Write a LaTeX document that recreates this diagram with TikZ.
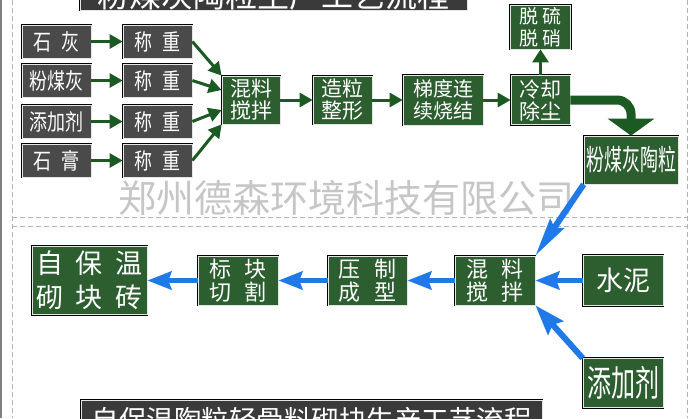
\documentclass[tikz,border=0pt]{standalone}
\usepackage{fontspec}
\newfontfamily\cjk{Noto Sans CJK SC}
\usetikzlibrary{arrows.meta}
\definecolor{boxgreen}{HTML}{2D5E30}
\definecolor{boxgray}{HTML}{4A4A4A}
\definecolor{titlegray}{HTML}{3A3A3A}
\definecolor{arrgreen}{HTML}{1C5A24}
\definecolor{arrblue}{HTML}{1F7AE8}
\newcommand{\fsz}[2]{\fontsize{#1}{#2}\selectfont}
\newcommand{\cgap}[1][0.6em]{\hspace{#1}}
\newcommand{\tallt}[2][1.25]{\scalebox{1}[#1]{#2}}
\begin{document}
\begin{tikzpicture}[x=1pt, y=-1pt, node distance=39pt,
  cbox/.style={rectangle, draw=white!80!gray, line width=0.7pt, preaction={draw=black, line width=2.6pt}, text=white, inner sep=0pt, align=center},
  gbox/.style={cbox, fill=boxgreen, minimum width=80pt, minimum height=49pt},
  hbox/.style={cbox, fill=boxgray, minimum width=69pt, minimum height=33pt, font=\cjk\fsz{18}{22}},
  garrow/.style={draw=arrgreen, line width=3pt, -{Triangle[length=13pt,width=14pt]}},
  barrow/.style={draw=arrblue, line width=5pt, -{Stealth[length=24pt,width=18pt,inset=3pt]}}]
\useasboundingbox (0,0) rectangle (700,418);
\clip (0,0) rectangle (700,418);
\fill[white] (0,0) rectangle (700,418);
\draw[gray, line width=1.5pt] (1,0) -- (1,418);
\draw[gray!60, line width=0.8pt, dash pattern=on 5pt off 3pt] (12,0) -- (12,418) (687,0) -- (687,418) (12,217) -- (687,217) (12,226) -- (687,226);
\node (W) [text=gray!45, font=\cjk\fsz{38}{40}] at (346,198) {郑州德森环境科技有限公司};

\node (U) [cbox, fill=titlegray, minimum width=387pt, minimum height=30pt, font=\cjk\fsz{32}{34}] at (273.5,-5) {粉煤灰陶粒生产工艺流程};
\node (V) [cbox, fill=titlegray, minimum width=461pt, minimum height=40pt, font=\cjk\fsz{27.5}{30}] at (311.5,420) {自保温陶粒轻骨料砌块生产工艺流程};

\node (A) [hbox] at (56.5,41.5) {\tallt{石\cgap 灰}};
\node (B) [hbox, below of=A] {\tallt{粉煤灰}};
\node (C) [hbox, below of=B, yshift=-2pt] {\tallt{添加剂}};
\node (D) [hbox, below of=C] {\tallt{石\cgap 膏}};
\node (E) [hbox, right of=A, xshift=62pt] {\tallt{称\cgap 重}};
\node (F) [hbox, right of=B, xshift=62pt] {\tallt{称\cgap 重}};
\node (G) [hbox, right of=C, xshift=62pt] {\tallt{称\cgap 重}};
\node (H) [hbox, right of=D, xshift=62pt] {\tallt{称\cgap 重}};
\node (I) [gbox, minimum width=58pt, minimum height=48pt, font=\cjk\fsz{21}{22}] at (251,100) {混料\\搅拌};
\node (J) [gbox, right of=I, xshift=52.5pt, minimum width=59pt, minimum height=48pt, font=\cjk\fsz{21}{22}] {造粒\\整形};
\node (K) [gbox, right of=J, xshift=61.5pt, minimum height=50pt, font=\cjk\fsz{20}{22}] {梯度连\\续烧结};
\node (L) [gbox, right of=K, xshift=58.5pt, minimum width=59pt, font=\cjk\fsz{21}{22}] {冷却\\除尘};
\node (M) [gbox, above of=L, yshift=34pt, minimum width=60pt, minimum height=44pt, font=\cjk\fsz{19}{22}] {脱\cgap[0.25em]硫\\脱\cgap[0.25em]硝};
\node (N) [gbox, below of=L, xshift=90.5pt, yshift=-21pt, minimum width=94pt, minimum height=48pt, font=\cjk\fsz{18}{20}] {\tallt[1.6]{粉煤灰陶粒}};

\node (O) [gbox, font=\cjk\fsz{22}{23}] at (495,280.5) {混\cgap 料\\搅\cgap 拌};
\node (P) [gbox, right of=O, xshift=89pt, minimum height=50pt, font=\cjk\fsz{27}{28}] {水泥};
\node (Q) [gbox, below of=P, yshift=-63.5pt, font=\cjk\fsz{24}{26}] {\tallt[1.5]{添加剂}};
\node (R) [gbox, left of=O, xshift=-88.5pt, minimum width=79pt, font=\cjk\fsz{22}{23}] {压\cgap 制\\成\cgap 型};
\node (S) [gbox, left of=R, xshift=-90.5pt, font=\cjk\fsz{22}{23}] {标\cgap 块\\切\cgap 割};
\node (T) [gbox, left of=S, xshift=-109.5pt, minimum width=115pt, minimum height=68pt, font=\cjk\fsz{27}{34}] {自\cgap[0.45em]保\cgap[0.45em]温\\砌\cgap[0.45em]块\cgap[0.45em]砖};

\draw[garrow] (A) -- (E);
\draw[garrow] (B) -- (F);
\draw[garrow] (C) -- (G);
\draw[garrow] (D) -- (H);
\draw[garrow] (E.east) -- (I.north west);
\draw[garrow] (F.east) -- ([yshift=10pt]I.west);
\draw[garrow] (G.east) -- ([yshift=-10pt]I.west);
\draw[garrow] (H.east) -- (I.south west);
\draw[garrow] (I) -- (J);
\draw[garrow] (J) -- (K);
\draw[garrow] (K) -- (L);
\draw[garrow, -{Triangle[length=13pt,width=16pt]}] (L) -- (M);
\draw[draw=arrgreen, line width=9pt, rounded corners=14pt, -{Triangle[length=17pt,width=46pt]}] (L.east) -| (N.north);

\draw[barrow, line width=6pt, -{Stealth[length=38pt,width=16pt,inset=4pt]}] (N.south west) -- (O.north east);
\draw[barrow] (P) -- (O);
\draw[barrow, line width=6pt, -{Stealth[length=30pt,width=20pt,inset=4pt]}] (Q.north west) -- (O.south east);
\draw[barrow] (O) -- (R);
\draw[barrow] (R) -- (S);
\draw[barrow] (S) -- (T);
\end{tikzpicture}
\end{document}
